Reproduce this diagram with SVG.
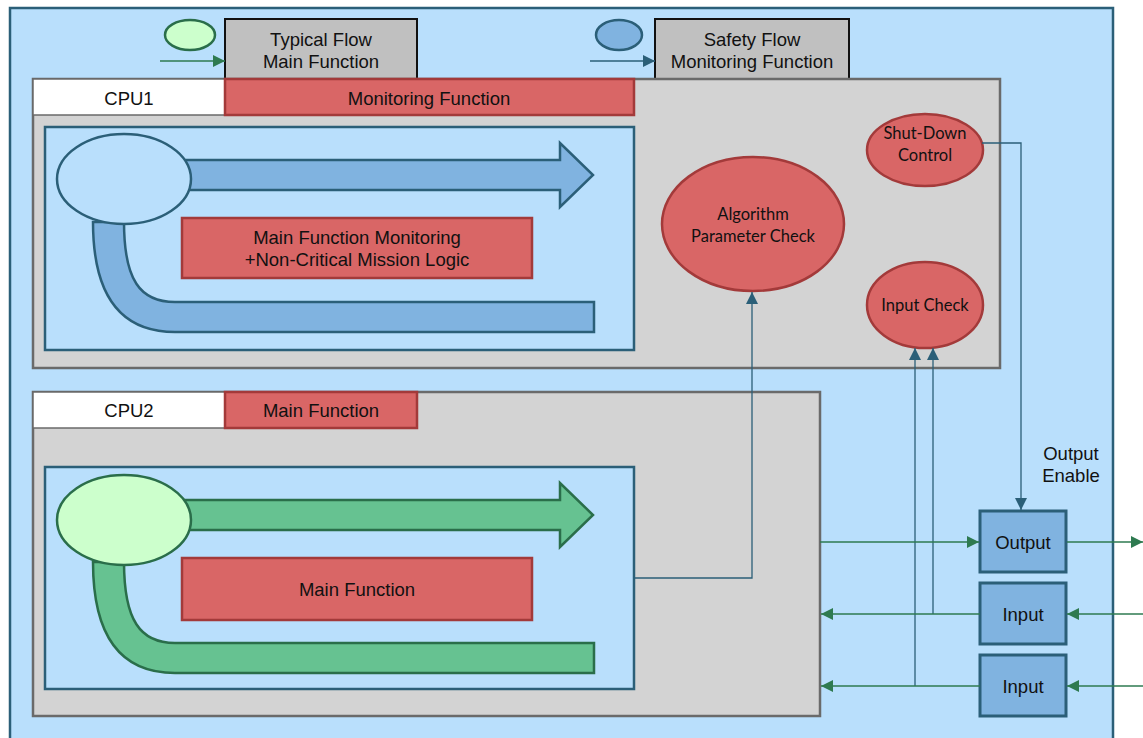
<svg xmlns="http://www.w3.org/2000/svg" width="1143" height="738" viewBox="0 0 1143 738">
<style>
.t{font-family:"Liberation Sans",Arial,sans-serif;font-size:18.5px;fill:#111;text-anchor:middle;dominant-baseline:central}
.c{font-family:Lato,"Open Sans",sans-serif;font-size:16.5px;fill:#111;text-anchor:middle;dominant-baseline:central}
.legend{fill:#c0c0c0;stroke:#111;stroke-width:2}
.cpu{fill:#d3d3d3;stroke:#6a6a6a;stroke-width:2.5}
.hdr{fill:#fff;stroke:#6a6a6a;stroke-width:1.5}
.red{fill:#d96666;stroke:#a33a3a;stroke-width:2.5}
.inner{fill:#b9dffc;stroke:#2b5f78;stroke-width:2.5}
.barb{fill:#80b3e0;stroke:#2b5f78;stroke-width:2.5}
.barg{fill:#66c291;stroke:#2a6e4a;stroke-width:2.5}
.io{fill:#80b3e0;stroke:#2b5f78;stroke-width:3}
.lb{fill:none;stroke:#2b5f78;stroke-width:1.3}
.lg{fill:none;stroke:#2e7a50;stroke-width:1.3}
</style>
<defs>
<marker id="ab" viewBox="0 0 10 10" refX="10" refY="5" markerWidth="12" markerHeight="12" markerUnits="userSpaceOnUse" orient="auto"><path d="M0,0 L10,5 L0,10 Z" fill="#2b5f78"/></marker>
<marker id="ag" viewBox="0 0 10 10" refX="10" refY="5" markerWidth="12" markerHeight="12" markerUnits="userSpaceOnUse" orient="auto"><path d="M0,0 L10,5 L0,10 Z" fill="#2e7a50"/></marker>
</defs>
<rect x="10" y="8" width="1103" height="740" fill="#b9dffc" stroke="#2b5f78" stroke-width="2.5"/>

<g id="legend-typical">
<ellipse cx="190" cy="35" rx="25" ry="15" fill="#ccffcc" stroke="#2a6e4a" stroke-width="2.5"/>
<rect class="legend" x="225" y="19" width="192" height="62"/>
<text class="t" x="321" y="39">Typical Flow</text>
<text class="t" x="321" y="61">Main Function</text>
</g>
<g id="legend-safety">
<ellipse cx="619" cy="35" rx="23" ry="15" fill="#80b3e0" stroke="#2b5f78" stroke-width="2.5"/>
<rect class="legend" x="655" y="19" width="194" height="62"/>
<text class="t" x="752" y="39">Safety Flow</text>
<text class="t" x="752" y="61">Monitoring Function</text>
</g>

<g id="cpu1">
<rect class="cpu" x="33" y="79" width="967" height="289"/>
<rect class="hdr" x="33" y="79" width="192" height="36"/>
<text class="t" x="129" y="98">CPU1</text>
<rect class="red" x="225" y="79" width="409" height="36"/>
<text class="t" x="429" y="98">Monitoring Function</text>
<rect class="inner" x="45" y="127" width="589" height="223"/>
<path class="barb" d="M93,222 C93,295 120,332 175,332 L594,332 L594,302 L175,302 C140,302 124,280 124,222 Z"/>
<path class="barb" d="M185,160 L560,160 L560,143 L593,175 L560,207 L560,190 L185,190 Z"/>
<ellipse cx="124" cy="179" rx="67" ry="45" fill="#b9dffc" stroke="#2b5f78" stroke-width="2.5"/>
</g>
<g id="cpu1-monitor-box">
<rect class="red" x="182" y="218" width="350" height="60"/>
<text class="t" x="357" y="237">Main Function Monitoring</text>
<text class="t" x="357" y="259">+Non-Critical Mission Logic</text>
</g>

<g id="cpu2">
<rect class="cpu" x="33" y="392" width="787" height="324"/>
<rect class="hdr" x="33" y="392" width="192" height="36"/>
<text class="t" x="129" y="410">CPU2</text>
<rect class="red" x="225" y="392" width="192" height="36"/>
<text class="t" x="321" y="410">Main Function</text>
<rect class="inner" x="45" y="467" width="589" height="222"/>
<path class="barg" d="M93,562 C93,635 120,673 175,673 L594,673 L594,643 L175,643 C140,643 124,620 124,562 Z"/>
<path class="barg" d="M185,500 L560,500 L560,483 L593,515 L560,547 L560,530 L185,530 Z"/>
<ellipse cx="124" cy="520" rx="67" ry="45" fill="#ccffcc" stroke="#2a6e4a" stroke-width="2.5"/>
</g>
<g id="cpu2-main-box">
<rect class="red" x="182" y="558" width="350" height="62"/>
<text class="t" x="357" y="589">Main Function</text>
</g>

<g id="shutdown">
<ellipse class="red" cx="925" cy="150" rx="58" ry="36"/>
<text class="c" x="925" y="133">Shut-Down</text>
<text class="c" x="925" y="155">Control</text>
</g>
<g id="algo">
<ellipse class="red" cx="753" cy="224" rx="91" ry="67"/>
<text class="c" x="753" y="214">Algorithm</text>
<text class="c" x="753" y="236">Parameter Check</text>
</g>
<g id="inputcheck">
<ellipse class="red" cx="925" cy="305" rx="58" ry="43"/>
<text class="c" x="925" y="305">Input Check</text>
</g>

<g id="output"><rect class="io" x="980" y="511" width="86" height="61"/><text class="t" x="1023" y="542">Output</text></g>
<g id="input1"><rect class="io" x="980" y="583" width="86" height="61"/><text class="t" x="1023" y="614">Input</text></g>
<g id="input2"><rect class="io" x="980" y="655" width="86" height="61"/><text class="t" x="1023" y="686">Input</text></g>
<g id="label-oe">
<text class="t" x="1071" y="453">Output</text>
<text class="t" x="1071" y="475">Enable</text>
</g>

<g id="connectors">
<path class="lg" d="M160,61 L225,61" marker-end="url(#ag)"/>
<path class="lb" d="M590,61 L655,61" marker-end="url(#ab)"/>
<path class="lb" d="M982,143 L1021,143 L1021,510" marker-end="url(#ab)"/>
<path class="lb" d="M634,578 L752,578 L752,292" marker-end="url(#ab)"/>
<path class="lb" d="M915,686 L915,348" marker-end="url(#ab)"/>
<path class="lb" d="M933,614 L933,348" marker-end="url(#ab)"/>
<path class="lg" d="M820,542 L979,542" marker-end="url(#ag)"/>
<path class="lg" d="M1067,542 L1143,542" marker-end="url(#ag)"/>
<path class="lg" d="M1145,614 L1067,614" marker-end="url(#ag)"/>
<path class="lg" d="M980,614 L821,614" marker-end="url(#ag)"/>
<path class="lg" d="M1145,686 L1067,686" marker-end="url(#ag)"/>
<path class="lg" d="M980,686 L821,686" marker-end="url(#ag)"/>
</g>
</svg>
